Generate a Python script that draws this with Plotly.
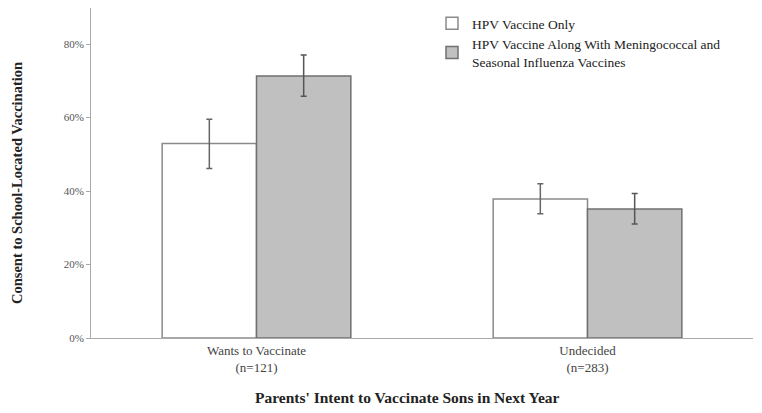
import plotly.graph_objects as go

categories = ["Wants to Vaccinate<br>(n=121)", "Undecided<br>(n=283)"]
hpv_only = [0.529, 0.378]
hpv_only_hi = [0.595, 0.420]
hpv_only_lo = [0.461, 0.338]
hpv_combo = [0.713, 0.351]
hpv_combo_hi = [0.770, 0.393]
hpv_combo_lo = [0.658, 0.310]

font = "Liberation Serif"
L, R, T, B = 83, 17, 0, 83
pw, ph = 762 - L - R, 413 - T - B

fig = go.Figure()
fig.add_trace(go.Bar(
    x=categories, y=hpv_only, name="HPV Vaccine Only",
    marker=dict(color="white", line=dict(color="#8a8a8a", width=1.5)),
    error_y=dict(type="data", symmetric=False,
                 array=[h - v for h, v in zip(hpv_only_hi, hpv_only)],
                 arrayminus=[v - l for l, v in zip(hpv_only_lo, hpv_only)],
                 color="#666", thickness=1.5, width=3),
))
fig.add_trace(go.Bar(
    x=categories, y=hpv_combo,
    name="HPV Vaccine Along With Meningococcal and<br>Seasonal Influenza Vaccines",
    marker=dict(color="#c0c0c0", line=dict(color="#707070", width=1.5)),
    error_y=dict(type="data", symmetric=False,
                 array=[h - v for h, v in zip(hpv_combo_hi, hpv_combo)],
                 arrayminus=[v - l for l, v in zip(hpv_combo_lo, hpv_combo)],
                 color="#555", thickness=1.5, width=3),
))

# axis titles as annotations (page offset of 8px from body margin)
fig.add_annotation(text="<b>Consent to School-Located Vaccination</b>",
                   xref="paper", yref="paper", x=(17 - 8 - L) / pw,
                   y=1 - (183 - 8 - T) / ph, xanchor="center", yanchor="middle",
                   textangle=-90, showarrow=False,
                   font=dict(size=14.5, color="#222"))
fig.add_annotation(text="<b>Parents' Intent to Vaccinate Sons in Next Year</b>",
                   xref="paper", yref="paper", x=(407 - 8 - L) / pw,
                   y=1 - (397 - 8 - T) / ph, xanchor="center", yanchor="middle",
                   showarrow=False, font=dict(size=15.5, color="#222"))

fig.update_layout(
    width=762, height=413,
    margin=dict(l=L, r=R, t=T, b=B),
    plot_bgcolor="white", paper_bgcolor="white",
    barmode="group", bargap=0.43, bargroupgap=0,
    font=dict(family=font, color="#333"),
    showlegend=True,
    legend=dict(x=(432 - 8 - L) / pw, y=1.0, xanchor="left", yanchor="top",
                font=dict(size=13.5, color="#222"), tracegroupgap=2,
                itemwidth=30, bgcolor="rgba(0,0,0,0)"),
    xaxis=dict(showline=True, linecolor="#aaa", linewidth=1, automargin=False,
               tickfont=dict(size=13, color="#444")),
    yaxis=dict(range=[0, 0.898], tickvals=[0, 0.2, 0.4, 0.6, 0.8],
               tickformat=".0%", showgrid=False, zeroline=False,
               showline=True, linecolor="#aaa", linewidth=1, automargin=False,
               ticks="outside", ticklen=4, tickcolor="#aaa",
               tickfont=dict(size=11, color="#555")),
)

fig.write_html("out.html")
